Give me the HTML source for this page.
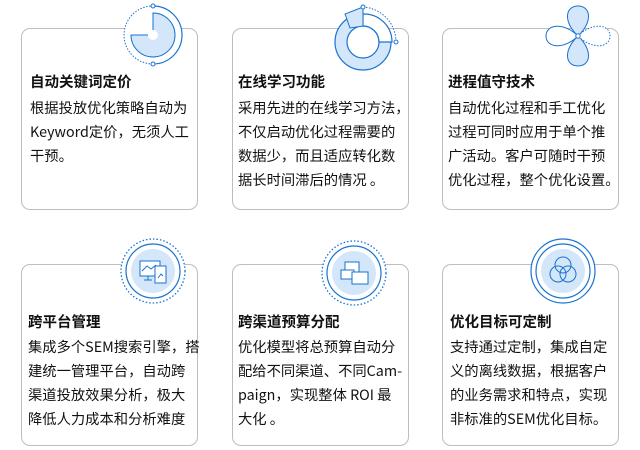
<!DOCTYPE html>
<html><head><meta charset="utf-8"><style>
*{margin:0;padding:0;box-sizing:border-box}
body{width:640px;height:450px;background:#fff;position:relative;overflow:hidden;font-family:"Noto Sans CJK SC","Liberation Sans",sans-serif;color:#111}
.card{position:absolute;width:177px;border:1px solid #bdbdbd;border-radius:9px;background:#fff}
.r1{top:28px;height:182px}
.r2{top:264px;height:182px}
.t{position:absolute;font-weight:bold;font-size:14.5px;line-height:20px}
.b{position:absolute;font-size:14.3px;line-height:24px;width:180px;white-space:nowrap}
svg{position:absolute}
</style></head><body>
<div class="card r1" style="left:21px"></div>
<div class="card r1" style="left:232px"></div>
<div class="card r1" style="left:442px"></div>
<div class="card r2" style="left:21px"></div>
<div class="card r2" style="left:232px"></div>
<div class="card r2" style="left:442px"></div>

<svg style="left:121px;top:3px" width="64" height="64" viewBox="3 3 64 64">
<circle cx="35" cy="35" r="29" fill="#fff"/>
<path d="M35 6 A29 29 0 0 1 35 64" fill="none" stroke="#1a73d0" stroke-width="1.2"/>
<path d="M35 64 A29 29 0 0 1 35 6" fill="none" stroke="#1a73d0" stroke-width="1" stroke-dasharray="1.5 1.5"/>
<circle cx="35" cy="6" r="2" fill="#fff" stroke="#1a73d0"/><circle cx="35" cy="64" r="2" fill="#fff" stroke="#1a73d0"/>
<path d="M35 13 A22 22 0 1 1 13 35 L35 35 Z" fill="#d3e6fa" stroke="#1a73d0" stroke-width="1"/>
<circle cx="35" cy="35" r="5" fill="#fff"/>
</svg>
<svg style="left:328px;top:4px" width="72" height="72" viewBox="0 0 72 72">
<circle cx="35" cy="38" r="28" fill="#d3e6fa" stroke="#1a73d0" stroke-width="1.2"/>
<circle cx="35" cy="38" r="16" fill="#fff" stroke="#1a73d0" stroke-width="1.2"/>
<path d="M51 38 L64 38 A28 28 0 0 0 35 10 L35 22 A16 16 0 0 1 51 38Z" fill="#fff" stroke="#1a73d0" stroke-width="1.2"/>
<path d="M35 3 L35 22 L22 24 L17 10 Z" fill="#d3e6fa" stroke="#1a73d0" stroke-width="1"/>
<path d="M35 3 A35 35 0 0 1 68 38" fill="none" stroke="#1a73d0" stroke-dasharray="1.5 1.5"/>
<circle cx="35" cy="3" r="2" fill="#fff" stroke="#1a73d0"/><circle cx="68" cy="38" r="2" fill="#fff" stroke="#1a73d0"/>
</svg>
<svg style="left:543px;top:2px" width="70" height="68" viewBox="0 0 70 68">
<path d="M35 34 C20 20 22 4 35 4 C48 4 50 20 35 34Z" fill="#d3e6fa" stroke="#1a73d0"/>
<path d="M35 34 C20 48 22 64 35 64 C48 64 50 48 35 34Z" fill="#d3e6fa" stroke="#1a73d0"/>
<path d="M35 34 C21 20 3 22 3 34 C3 46 21 48 35 34Z" fill="#fff" stroke="#1a73d0"/>
<path d="M35 34 C49 20 67 22 67 34 C67 46 49 48 35 34Z" fill="#fff" stroke="#1a73d0" stroke-dasharray="1.5 1.5"/>
<circle cx="35" cy="34" r="2.2" fill="#fff" stroke="#1a73d0"/>
</svg>
<svg style="left:118px;top:236px" width="70" height="70" viewBox="0 0 70 70">
<circle cx="35" cy="35" r="32" fill="#fff" stroke="#1a73d0" stroke-width="1.3" stroke-dasharray="1.5 2"/>
<circle cx="35" cy="35" r="27" fill="#fff" stroke="#1a73d0" stroke-width="1.2"/>
<circle cx="35" cy="35" r="22" fill="#d3e6fa"/>
<rect x="22" y="25" width="20" height="15" fill="#fff" stroke="#1a73d0"/><path d="M30 40v4h-4h8" stroke="#1a73d0" fill="none"/>
<rect x="37" y="30" width="11" height="17" fill="#fff" stroke="#1a73d0"/>
<path d="M24 35l5-5 4 3 5-4M40 42l3-4 2 2" stroke="#1a73d0" fill="none"/>
</svg>
<svg style="left:319px;top:238px" width="70" height="70" viewBox="0 0 70 70">
<circle cx="35" cy="35" r="32" fill="#fff" stroke="#1a73d0" stroke-width="1.3" stroke-dasharray="1.5 2"/>
<circle cx="35" cy="35" r="27" fill="#fff" stroke="#1a73d0" stroke-width="1.2"/>
<circle cx="35" cy="35" r="22" fill="#d3e6fa"/>
<rect x="26" y="24" width="14" height="10" fill="#fff" stroke="#1a73d0"/>
<rect x="22" y="32" width="13" height="9" fill="#fff" stroke="#1a73d0"/>
<rect x="33" y="34" width="16" height="12" fill="#fff" stroke="#1a73d0"/>
</svg>
<svg style="left:528px;top:236px" width="70" height="70" viewBox="0 0 70 70">
<circle cx="35" cy="35" r="32" fill="#fff" stroke="#1a73d0" stroke-width="1.2"/>
<circle cx="35" cy="35" r="27" fill="#fff" stroke="#1a73d0" stroke-width="1.2"/>
<circle cx="35" cy="35" r="22" fill="#d3e6fa"/>
<circle cx="35" cy="29" r="8" fill="none" stroke="#1a73d0"/>
<circle cx="30" cy="38" r="8" fill="none" stroke="#1a73d0"/>
<circle cx="40" cy="38" r="8" fill="none" stroke="#1a73d0"/>
</svg>

<div class="t" style="left:30px;top:72px">自动关键词定价</div>
<div class="b" style="left:30px;top:96px">根据投放优化策略自动为<br>Keyword定价，无须人工<br>干预。</div>
<div class="t" style="left:238px;top:72px">在线学习功能</div>
<div class="b" style="left:238px;top:96px">采用先进的在线学习方法，<br>不仅启动优化过程需要的<br>数据少，而且适应转化数<br>据长时间滞后的情况 。</div>
<div class="t" style="left:448px;top:72px">进程值守技术</div>
<div class="b" style="left:448px;top:96px">自动优化过程和手工优化<br>过程可同时应用于单个推<br>广活动。客户可随时干预<br>优化过程，整个优化设置。</div>

<div class="t" style="left:28px;top:312px">跨平台管理</div>
<div class="b" style="left:28px;top:335px">集成多个SEM搜索引擎，搭<br>建统一管理平台，自动跨<br>渠道投放效果分析，极大<br>降低人力成本和分析难度</div>
<div class="t" style="left:238px;top:312px">跨渠道预算分配</div>
<div class="b" style="left:238px;top:335px">优化模型将总预算自动分<br>配给不同渠道、不同Cam-<br>paign，实现整体 ROI 最<br>大化 。</div>
<div class="t" style="left:450px;top:312px">优化目标可定制</div>
<div class="b" style="left:450px;top:335px">支持通过定制，集成自定<br>义的离线数据，根据客户<br>的业务需求和特点，实现<br>非标准的SEM优化目标。</div>
</body></html>
